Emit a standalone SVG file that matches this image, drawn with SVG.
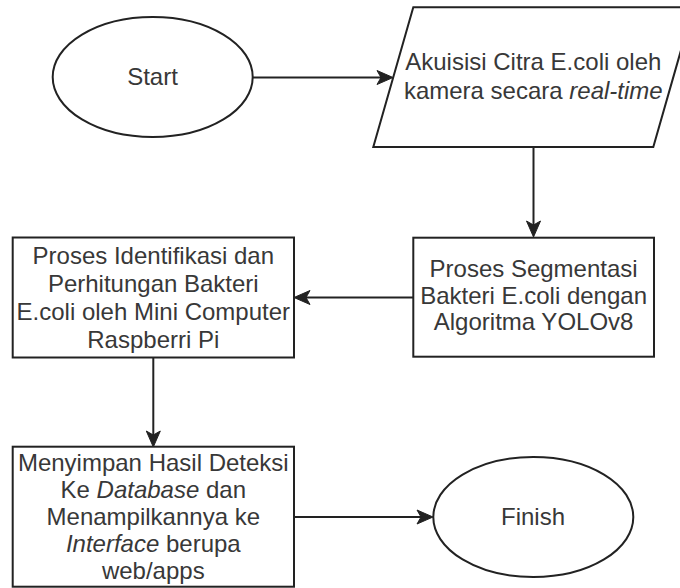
<svg xmlns="http://www.w3.org/2000/svg" width="680" height="588" viewBox="0 0 680 588">
  <style>
    .shape { fill: #ffffff; stroke: #222222; stroke-width: 2; }
    .edge { fill: none; stroke: #222222; stroke-width: 2; }
    .label { font-family: "Liberation Sans", Arial, sans-serif; font-size: 24px; fill: #383838; text-anchor: middle; }
    .it { font-style: italic; }
  </style>
  <defs>
    <marker id="arrow" viewBox="0 0 18 16" refX="5" refY="8" markerWidth="18" markerHeight="16" markerUnits="userSpaceOnUse" orient="auto">
      <path d="M1,1 L17,8 L1,15 L5,8 Z" fill="#222222" stroke="#222222" stroke-width="1" stroke-linejoin="miter"/>
    </marker>
  </defs>
  <rect width="680" height="588" fill="#ffffff"/>

  <!-- connectors -->
  <g id="connectors">
    <path class="edge" d="M252.7,77.5 L381,77.5" marker-end="url(#arrow)"/>
    <path class="edge" d="M533.5,147 L533.5,225" marker-end="url(#arrow)"/>
    <path class="edge" d="M413,297.5 L306,297.5" marker-end="url(#arrow)"/>
    <path class="edge" d="M153.3,357.5 L153.3,435" marker-end="url(#arrow)"/>
    <path class="edge" d="M294,517 L421,517" marker-end="url(#arrow)"/>
  </g>

  <!-- start terminal -->
  <g id="start">
    <ellipse class="shape" cx="152.7" cy="77" rx="100" ry="60"/>
    <text class="label" x="152.5" y="85">Start</text>
  </g>

  <!-- camera acquisition (input/output) -->
  <g id="acquisition">
    <polygon class="shape" points="413.3,7.3 693.3,7.3 653.3,147 373.3,147"/>
    <text class="label" x="533.3" y="70">Akuisisi Citra E.coli oleh</text>
    <text class="label" x="533.3" y="99">kamera secara <tspan class="it">real-time</tspan></text>
  </g>

  <!-- segmentation process -->
  <g id="segmentation">
    <rect class="shape" x="413.3" y="237.7" width="240.7" height="119"/>
    <text class="label" x="533.6" y="277">Proses Segmentasi</text>
    <text class="label" x="533.6" y="303.5">Bakteri E.coli dengan</text>
    <text class="label" x="533.6" y="330">Algoritma YOLOv8</text>
  </g>

  <!-- identification and counting -->
  <g id="identification">
    <rect class="shape" x="12.7" y="237.5" width="281.3" height="120"/>
    <text class="label" x="153.3" y="263.5">Proses Identifikasi dan</text>
    <text class="label" x="153.3" y="291.5">Perhitungan Bakteri</text>
    <text class="label" x="153.3" y="319.5">E.coli oleh Mini Computer</text>
    <text class="label" x="153.3" y="347.5">Raspberri Pi</text>
  </g>

  <!-- storing and displaying results -->
  <g id="storage">
    <rect class="shape" x="12.7" y="446.7" width="281.3" height="140"/>
    <text class="label" x="153.3" y="471">Menyimpan Hasil Deteksi</text>
    <text class="label" x="153.3" y="498">Ke <tspan class="it">Database</tspan> dan</text>
    <text class="label" x="153.3" y="525">Menampilkannya ke</text>
    <text class="label" x="153.3" y="552"><tspan class="it">Interface</tspan> berupa</text>
    <text class="label" x="153.3" y="579">web/apps</text>
  </g>

  <!-- finish terminal -->
  <g id="finish">
    <ellipse class="shape" cx="533.3" cy="517" rx="100" ry="60"/>
    <text class="label" x="533" y="525">Finish</text>
  </g>
</svg>
